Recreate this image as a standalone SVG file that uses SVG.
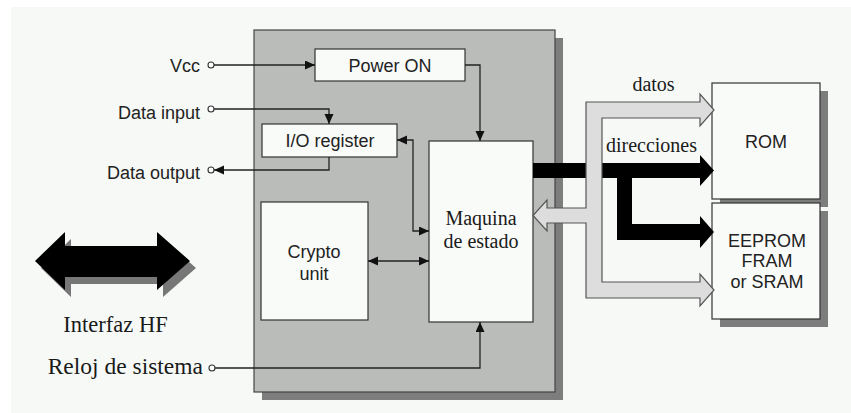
<svg xmlns="http://www.w3.org/2000/svg" width="851" height="413" viewBox="0 0 851 413">
<defs>
<style>
.box{fill:#f9fbf9;stroke:#333;stroke-width:1.2}
.shadow{fill:#7d7d7d}
.sans{font-family:"Liberation Sans",Arial,sans-serif;font-size:18px;fill:#222}
.serif{font-family:"Liberation Serif","Times New Roman",serif;fill:#1a1a1a}
.wire{fill:none;stroke:#222;stroke-width:1.3}
.pin{fill:#fff;stroke:#333;stroke-width:1.1}
</style>
<marker id="ah" markerUnits="userSpaceOnUse" markerWidth="11" markerHeight="10" refX="10" refY="4.5" orient="auto-start-reverse">
<path d="M0,0 L10,4.5 L0,9 Z" fill="#111"/>
</marker>
</defs>
<rect x="0" y="0" width="851" height="413" fill="#fff"/>
<rect x="11" y="7" width="840" height="406" fill="#f6f9f6"/>

<g id="chip">
<rect x="262" y="38" width="301" height="362" class="shadow"/>
<rect x="254" y="30" width="301" height="362" fill="#babcba" stroke="#444" stroke-width="1.2"/>
</g>

<g id="power-on">
<rect x="315" y="49" width="150" height="32" class="box"/>
<text x="390" y="72" class="sans" text-anchor="middle">Power ON</text>
</g>
<g id="io-register">
<rect x="262" y="124" width="135" height="33" class="box"/>
<text x="330" y="147" class="sans" text-anchor="middle">I/O register</text>
</g>
<g id="crypto-unit">
<rect x="261" y="202" width="107" height="118" class="box"/>
<text x="314" y="258" class="sans" text-anchor="middle">Crypto</text>
<text x="314" y="280" class="sans" text-anchor="middle">unit</text>
</g>
<g id="maquina">
<rect x="429" y="141" width="104" height="181" class="box"/>
<text x="481" y="225" class="serif" font-size="20" text-anchor="middle">Maquina</text>
<text x="481" y="248" class="serif" font-size="20" text-anchor="middle">de estado</text>
</g>
<g id="rom">
<rect x="720" y="91" width="108" height="116" class="shadow"/>
<rect x="712" y="83" width="108" height="116" class="box"/>
<text x="766" y="148" class="sans" text-anchor="middle">ROM</text>
</g>
<g id="eeprom">
<rect x="720" y="211" width="108" height="116" class="shadow"/>
<rect x="712" y="203" width="108" height="116" class="box"/>
<text x="767" y="247" class="sans" text-anchor="middle">EEPROM</text>
<text x="767" y="267" class="sans" text-anchor="middle">FRAM</text>
<text x="767" y="288" class="sans" text-anchor="middle">or SRAM</text>
</g>

<g id="hf-interface">
<polygon points="41,268 71,239 71,253 163,253 163,239 196,268 163,297 163,284 71,284 71,297" fill="#777"/>
<polygon points="35,261 65,232 65,246 157,246 157,232 190,261 157,290 157,277 65,277 65,290" fill="#000"/>
<text x="115.5" y="332" class="serif" font-size="22.5" text-anchor="middle">Interfaz HF</text>
</g>

<g id="pins">
<text x="200" y="72" class="sans" text-anchor="end">Vcc</text>
<text x="200" y="119" class="sans" text-anchor="end">Data input</text>
<text x="200" y="179" class="sans" text-anchor="end">Data output</text>
<text x="203" y="374" class="serif" font-size="23.5" text-anchor="end">Reloj de sistema</text>
</g>

<g id="connectors">
<path class="wire" d="M214,65 H315" marker-end="url(#ah)"/>
<path class="wire" d="M214,109 H329 V124" marker-end="url(#ah)"/>
<path class="wire" d="M329,157 V170 H214" marker-end="url(#ah)"/>
<path class="wire" d="M465,65 H480 V141" marker-end="url(#ah)"/>
<path class="wire" d="M429,231 H413 V140 H397" marker-start="url(#ah)" marker-end="url(#ah)"/>
<path class="wire" d="M368,261 H429" marker-start="url(#ah)" marker-end="url(#ah)"/>
<path class="wire" d="M215,368 H480 V322" marker-end="url(#ah)"/>
<circle cx="211" cy="65" r="3" class="pin"/>
<circle cx="211" cy="109" r="3" class="pin"/>
<circle cx="211" cy="170" r="3" class="pin"/>
<circle cx="212" cy="368" r="3" class="pin"/>
<path d="M533,163 H700 V155 L714,170.5 L700,186 V178 H632 V224 H700 V216 L714,232 L700,248 V240 H617 V178 H533 Z" fill="#000"/>
<path d="M586,102 H700 V94 L714,110 L700,126 V118 H602 V282 H700 V274 L714,290 L700,306 V298 H586 V223 H547 V231 L533,215.5 L547,200 V208 H586 Z" fill="#dcdddc" stroke="#555" stroke-width="1.2" stroke-linejoin="miter"/>
<text x="653.5" y="91" class="serif" font-size="20" text-anchor="middle">datos</text>
<text x="651.5" y="152" class="serif" font-size="20" text-anchor="middle">direcciones</text>
</g>
</svg>
